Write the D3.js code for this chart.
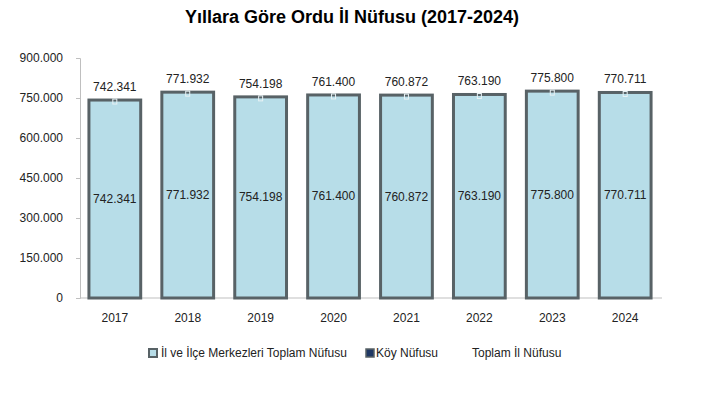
<!DOCTYPE html>
<html><head><meta charset="utf-8">
<script src="https://cdn.jsdelivr.net/npm/d3@7"></script>
<style>body{margin:0;background:#fff}svg{display:block;font-family:"Liberation Sans",Arial,sans-serif}</style>
</head><body>
<svg id="c" width="703" height="393"></svg>
<script>
const years = ["2017","2018","2019","2020","2021","2022","2023","2024"];
const merkezValues = [742341,771932,754198,761400,760872,763190,775800,770711];
const koyValues = [0,0,0,0,0,0,0,0];
const toplamValues = [742341,771932,754198,761400,760872,763190,775800,770711];
const yTicks = [0,150000,300000,450000,600000,750000,900000];
const legendLabels = ["İl ve İlçe Merkezleri Toplam Nüfusu","Köy Nüfusu","Toplam İl Nüfusu"];

const fmt = v => d3.format(",")(v).replace(/,/g,".");
const svg = d3.select("#c");
const x = d3.scaleBand().domain(years).range([78,662]).paddingInner(0.29).paddingOuter(0.15);
const y = d3.scaleLinear().domain([0,900000]).range([298,58]);

svg.append("text").attr("x",352).attr("y",23).attr("text-anchor","middle")
  .attr("font-size",18).attr("font-weight","bold").attr("fill","#000")
  .text("Yıllara Göre Ordu İl Nüfusu (2017-2024)");

const yAxis = svg.append("g").attr("transform","translate(80,0)")
  .call(d3.axisLeft(y).tickValues(yTicks).tickFormat(fmt).tickSize(4).tickPadding(13));
yAxis.select(".domain").attr("stroke","#bfbfbf");
yAxis.selectAll(".tick line").attr("stroke","#bfbfbf");
yAxis.selectAll("text").attr("font-size",12).attr("fill","#222").attr("font-family","Liberation Sans, Arial, sans-serif");

svg.append("line").attr("x1",80).attr("x2",662).attr("y1",y(0)).attr("y2",y(0)).attr("stroke","#bfbfbf");

const xAxis = svg.append("g").attr("transform","translate(0,298)")
  .call(d3.axisBottom(x).tickSize(0).tickPadding(15));
xAxis.select(".domain").remove();
xAxis.selectAll("text").attr("font-size",12).attr("fill","#222").attr("font-family","Liberation Sans, Arial, sans-serif");

const data = years.map((yr,i)=>({yr, m:merkezValues[i], k:koyValues[i], t:toplamValues[i]}));

svg.append("g").selectAll("rect").data(data).join("rect")
  .attr("x",d=>x(d.yr)).attr("width",x.bandwidth())
  .attr("y",d=>y(d.m)).attr("height",d=>y(0)-y(d.m))
  .attr("fill","#b7dde8").attr("stroke","#586266").attr("stroke-width",3);

svg.append("g").selectAll("rect").data(data).join("rect")
  .attr("x",d=>x(d.yr)+x.bandwidth()/2-2).attr("width",4)
  .attr("y",d=>y(d.t)-1).attr("height",5)
  .attr("fill","none").attr("stroke","#e8f2f5").attr("stroke-width",1);

svg.append("g").selectAll("text").data(data).join("text")
  .attr("x",d=>x(d.yr)+x.bandwidth()/2).attr("y",d=>(y(d.m)+y(0))/2+4)
  .attr("text-anchor","middle").attr("font-size",12).attr("fill","#222")
  .text(d=>fmt(d.m));

svg.append("g").selectAll("text").data(data).join("text")
  .attr("x",d=>x(d.yr)+x.bandwidth()/2).attr("y",d=>y(d.t)-9)
  .attr("text-anchor","middle").attr("font-size",12).attr("fill","#222")
  .text(d=>fmt(d.t));

const lg = svg.append("g").attr("font-size",12).attr("fill","#222");
lg.append("rect").attr("x",149).attr("y",349).attr("width",8).attr("height",8).attr("fill","#b7dde8").attr("stroke","#586266").attr("stroke-width",2);
lg.append("text").attr("x",161).attr("y",357).text(legendLabels[0]);
lg.append("rect").attr("x",366).attr("y",349).attr("width",8).attr("height",8).attr("fill","#1f3864").attr("stroke","#586266").attr("stroke-width",1.5);
lg.append("text").attr("x",376).attr("y",357).text(legendLabels[1]);
lg.append("text").attr("x",472).attr("y",357).text(legendLabels[2]);
</script>
</body></html>
